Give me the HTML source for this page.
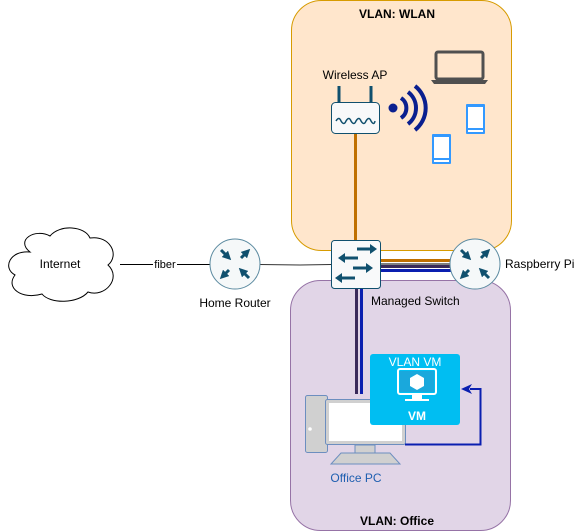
<!DOCTYPE html>
<html><head><style>body{margin:0;background:#fff}svg{display:block}text{font-family:"Liberation Sans",sans-serif}</style></head><body>
<svg width="575" height="531" viewBox="0 0 575 531">
<defs><marker id="ah" viewBox="0 0 10 10" refX="5" refY="5" markerWidth="3" markerHeight="3" orient="auto"><path d="M0,0 L10,5 L0,10 Z" fill="#10506e"/></marker></defs>
<rect x="291.5" y="0.5" width="220" height="250" rx="30" fill="#ffe6cc" stroke="#d79b00"/>
<text x="397" y="18" font-size="12" font-weight="bold" text-anchor="middle">VLAN: WLAN</text>
<rect x="290.5" y="280.5" width="220" height="250" rx="30" fill="#e1d5e7" stroke="#9673a6"/>
<text x="397" y="525" font-size="12" font-weight="bold" text-anchor="middle">VLAN: Office</text>
<path d="M30,252 C15,240 35,228 50,236 C60,224 85,226 90,238 C110,235 120,255 108,265 C122,278 105,298 88,292 C78,304 50,304 42,294 C22,300 5,288 15,275 C2,268 10,250 30,252 Z" fill="#fff" stroke="#000"/>
<text x="60" y="268" font-size="12" text-anchor="middle">Internet</text>
<line x1="120" y1="264.5" x2="210" y2="264.5" stroke="#000"/>
<rect x="153" y="257" width="24" height="14" fill="#fff"/>
<text x="165" y="268" font-size="11" text-anchor="middle">fiber</text>
<path d="M260,264.5 L300,265 L331,264.5" stroke="#333" fill="none"/>
<circle cx="235" cy="264" r="25" fill="#f5f8f9" stroke="#5b8aa0"/>
<g stroke="#10506e" stroke-width="3" marker-end="url(#ah)">
<line x1="221" y1="250" x2="228" y2="257"/><line x1="241" y1="258" x2="247" y2="252"/><line x1="229" y1="270" x2="223" y2="276"/><line x1="249" y1="278" x2="242" y2="271"/></g>
<text x="235" y="307" font-size="12" text-anchor="middle">Home Router</text>
<line x1="355.5" y1="134" x2="355.5" y2="240" stroke="#c07000" stroke-width="3"/>
<line x1="380" y1="260.5" x2="452" y2="260.5" stroke="#c07000" stroke-width="3"/>
<line x1="380" y1="264" x2="452" y2="264" stroke="#000" stroke-width="1"/>
<line x1="380" y1="266.5" x2="452" y2="266.5" stroke="#3a2a5a" stroke-width="3"/>
<line x1="380" y1="270.5" x2="452" y2="270.5" stroke="#0a1fb0" stroke-width="3"/>
<line x1="356.5" y1="288" x2="356.5" y2="394" stroke="#3a2a5a" stroke-width="3"/>
<line x1="361.5" y1="288" x2="361.5" y2="394" stroke="#0a1fb0" stroke-width="3"/>
<rect x="331.5" y="240.5" width="49" height="48" rx="3" fill="#f8f9fa" stroke="#10506e"/>
<g fill="#10506e" stroke="#10506e" stroke-width="3">
<line x1="357" y1="249" x2="370" y2="249"/><polygon points="370,244 377,249 370,254" stroke="none"/>
<line x1="345" y1="258" x2="358" y2="258"/><polygon points="345,253 338,258 345,263" stroke="none"/>
<line x1="353" y1="268" x2="366" y2="268"/><polygon points="366,263 373,268 366,273" stroke="none"/>
<line x1="342" y1="278" x2="355" y2="278"/><polygon points="342,273 335,278 342,283" stroke="none"/></g>
<text x="371" y="305" font-size="12">Managed Switch</text>
<circle cx="475" cy="264" r="25" fill="#f5f8f9" stroke="#5b8aa0"/>
<g stroke="#10506e" stroke-width="3" marker-end="url(#ah)">
<line x1="461" y1="250" x2="468" y2="257"/><line x1="481" y1="258" x2="487" y2="252"/><line x1="469" y1="270" x2="463" y2="276"/><line x1="489" y1="278" x2="482" y2="271"/></g>
<text x="505" y="268" font-size="12">Raspberry Pi</text>
<text x="355" y="79" font-size="12" text-anchor="middle">Wireless AP</text>
<line x1="339" y1="86" x2="339" y2="102" stroke="#10506e" stroke-width="3"/>
<line x1="371" y1="86" x2="371" y2="102" stroke="#10506e" stroke-width="3"/>
<rect x="331.5" y="102.5" width="48" height="31" rx="4" fill="#f8f9fa" stroke="#10506e"/>
<path d="M336,121 q3,-5 5,0 q3,5 5,0 q3,-5 5,0 q3,5 5,0 q3,-5 5,0 q3,5 5,0 q3,-5 5,0 q3,5 4,0" fill="none" stroke="#10506e" stroke-width="1.5"/>
<circle cx="393" cy="108" r="4.5" fill="#0a1f8f"/>
<g fill="none" stroke="#0a1f8f" stroke-width="4"><path d="M401,98 a12,12 0 0 1 0,20"/><path d="M408,92 a20,20 0 0 1 0,32"/><path d="M415,86 a28,28 0 0 1 0,44"/></g>
<rect x="436" y="52" width="47" height="27" rx="2" fill="none" stroke="#505050" stroke-width="3"/>
<path d="M431,80 L488,80 L485,84 L434,84 Z" fill="#505050"/>
<rect x="466" y="104" width="19" height="30" rx="1" fill="#3399ff"/>
<rect x="468" y="107" width="15" height="21" fill="#fff"/><rect x="468" y="130" width="15" height="2" fill="#fff"/>
<rect x="432" y="134" width="19" height="30" rx="1" fill="#3399ff"/>
<rect x="434" y="137" width="15" height="21" fill="#fff"/><rect x="434" y="160" width="15" height="2" fill="#fff"/>
<rect x="305.5" y="395.5" width="22" height="57" rx="2" fill="#d0d0d0" stroke="#6c8ebf"/>
<circle cx="310" cy="429" r="1.8" fill="#fff"/>
<rect x="325.5" y="399.5" width="80" height="45" rx="2" fill="#d0d0d0" stroke="#6c8ebf"/>
<rect x="329" y="403" width="73" height="38" fill="#fff"/>
<rect x="355" y="445" width="20" height="8" fill="#d0d0d0" stroke="#6c8ebf"/>
<path d="M341,453 L390,453 L400,464 L331,464 Z" fill="#d0d0d0" stroke="#6c8ebf"/>
<text x="356" y="482" font-size="12" fill="#1f5fb0" text-anchor="middle">Office PC</text>
<rect x="370" y="354" width="90" height="71" rx="3" fill="#00bef2"/>
<text x="415" y="366" font-size="12" fill="#fff" text-anchor="middle">VLAN VM</text>
<rect x="398" y="369" width="38" height="25" rx="2" fill="none" stroke="#fff" stroke-width="2"/>
<rect x="400" y="371" width="34" height="21" fill="#1aa8dc"/>
<rect x="412" y="394" width="10" height="5" fill="#fff"/><rect x="405" y="399" width="24" height="2" fill="#fff"/>
<polygon points="417,374 424,378 424,386 417,390 410,386 410,378" fill="#fff"/>
<text x="417" y="420" font-size="12" font-weight="bold" fill="#fff" text-anchor="middle">VM</text>
<path d="M405,444.5 L480.5,444.5 L480.5,389 L470,389" fill="none" stroke="#0a1fb0" stroke-width="2"/>
<polygon points="461,389 472,384 469,389 472,394" fill="#0a1fb0"/>
</svg></body></html>
